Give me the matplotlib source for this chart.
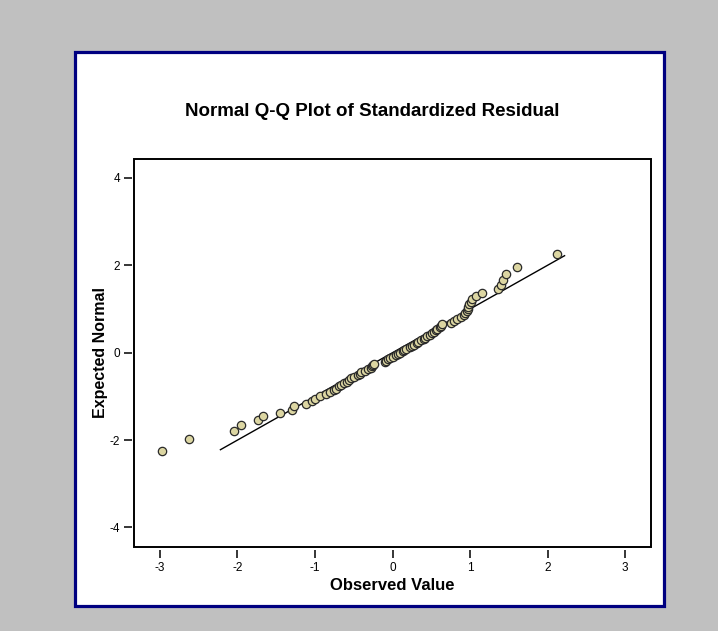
import matplotlib.pyplot as plt
from matplotlib.patches import Rectangle

# observed standardized residuals and expected normal values
observed = [-2.98, -2.63, -2.05, -1.95, -1.73, -1.67, -1.45, -1.30, -1.27, -1.11,
            -1.04, -1.00, -0.93, -0.86, -0.80, -0.76, -0.73, -0.69, -0.66, -0.62,
            -0.59, -0.56, -0.53, -0.50, -0.45, -0.42, -0.40, -0.36, -0.31, -0.28,
            -0.27, -0.25, -0.24, -0.10, -0.08, -0.06, -0.03, 0.00, 0.04, 0.07,
            0.10, 0.13, 0.15, 0.18, 0.22, 0.25, 0.28, 0.31, 0.33, 0.37,
            0.40, 0.42, 0.45, 0.48, 0.51, 0.53, 0.56, 0.58, 0.61, 0.62,
            0.64, 0.76, 0.79, 0.83, 0.88, 0.92, 0.94, 0.96, 0.97, 0.98,
            0.99, 1.01, 1.02, 1.08, 1.15, 1.36, 1.40, 1.43, 1.47, 1.60,
            2.12]
expected = [-2.25, -1.97, -1.79, -1.66, -1.55, -1.45, -1.37, -1.30, -1.23, -1.17,
            -1.11, -1.05, -1.00, -0.95, -0.90, -0.86, -0.82, -0.77, -0.73, -0.69,
            -0.66, -0.62, -0.58, -0.55, -0.51, -0.48, -0.44, -0.41, -0.38, -0.34,
            -0.31, -0.28, -0.25, -0.22, -0.18, -0.15, -0.12, -0.09, -0.06, -0.03,
            0.00, 0.03, 0.06, 0.09, 0.12, 0.15, 0.18, 0.22, 0.25, 0.28,
            0.31, 0.34, 0.38, 0.41, 0.44, 0.48, 0.51, 0.55, 0.58, 0.62,
            0.66, 0.69, 0.73, 0.77, 0.82, 0.86, 0.90, 0.95, 1.00, 1.05,
            1.11, 1.17, 1.23, 1.30, 1.37, 1.45, 1.55, 1.66, 1.79, 1.97,
            2.25]
ref_line = [-2.22, 2.22]
ticks = [-4, -2, 0, 2, 4]
xticks = [-3, -2, -1, 0, 1, 2, 3]

plt.rcParams['font.family'] = ['Liberation Sans', 'DejaVu Sans']
plt.rcParams['axes.unicode_minus'] = False

fig = plt.figure(figsize=(7.18, 6.31), dpi=100, facecolor='#C0C0C0')

# white panel with navy frame
fig.patches.append(Rectangle((74.5 / 718, 1 - 605.5 / 631), 589 / 718, 554 / 631,
                             transform=fig.transFigure, facecolor='white',
                             edgecolor='#000080', linewidth=2.3, zorder=-10))

ax = fig.add_axes([134 / 718, 1 - 546.7 / 631, 517 / 718, 388 / 631])
ax.plot(ref_line, ref_line, color='black', linewidth=1.0, zorder=2)
ax.plot(observed, expected, 'o', markersize=6, markerfacecolor='#DCD6A2',
        markeredgecolor='#2a2a2a', markeredgewidth=0.9, zorder=3)

ax.set_xlim(-3.335, 3.335)
ax.set_ylim(-4.44, 4.44)
ax.set_xticks(xticks)
ax.set_yticks(ticks)

for s in ax.spines.values():
    s.set_visible(False)
ax.spines['bottom'].set_position(('outward', 2.2))
ax.spines['left'].set_position(('outward', 1.5))
ax.add_patch(Rectangle((0, 0), 1, 1, transform=ax.transAxes, fill=False,
                       edgecolor='black', linewidth=1.4, clip_on=False, zorder=5))
ax.tick_params(direction='out', length=5.5, width=1.1, labelsize=8.5,
               colors='black', pad=3)

# title is centred on the white panel, not on the axes
fig.text(372 / 718, 1 - 112 / 631, 'Normal Q-Q Plot of Standardized Residual',
         fontsize=13.5, fontweight='bold', ha='center', va='center')
ax.set_xlabel('Observed Value', fontsize=12, fontweight='bold', labelpad=3)
ax.set_ylabel('Expected Normal', fontsize=11.5, fontweight='bold', labelpad=1)

fig.savefig('out.png', dpi=100, facecolor=fig.get_facecolor())
